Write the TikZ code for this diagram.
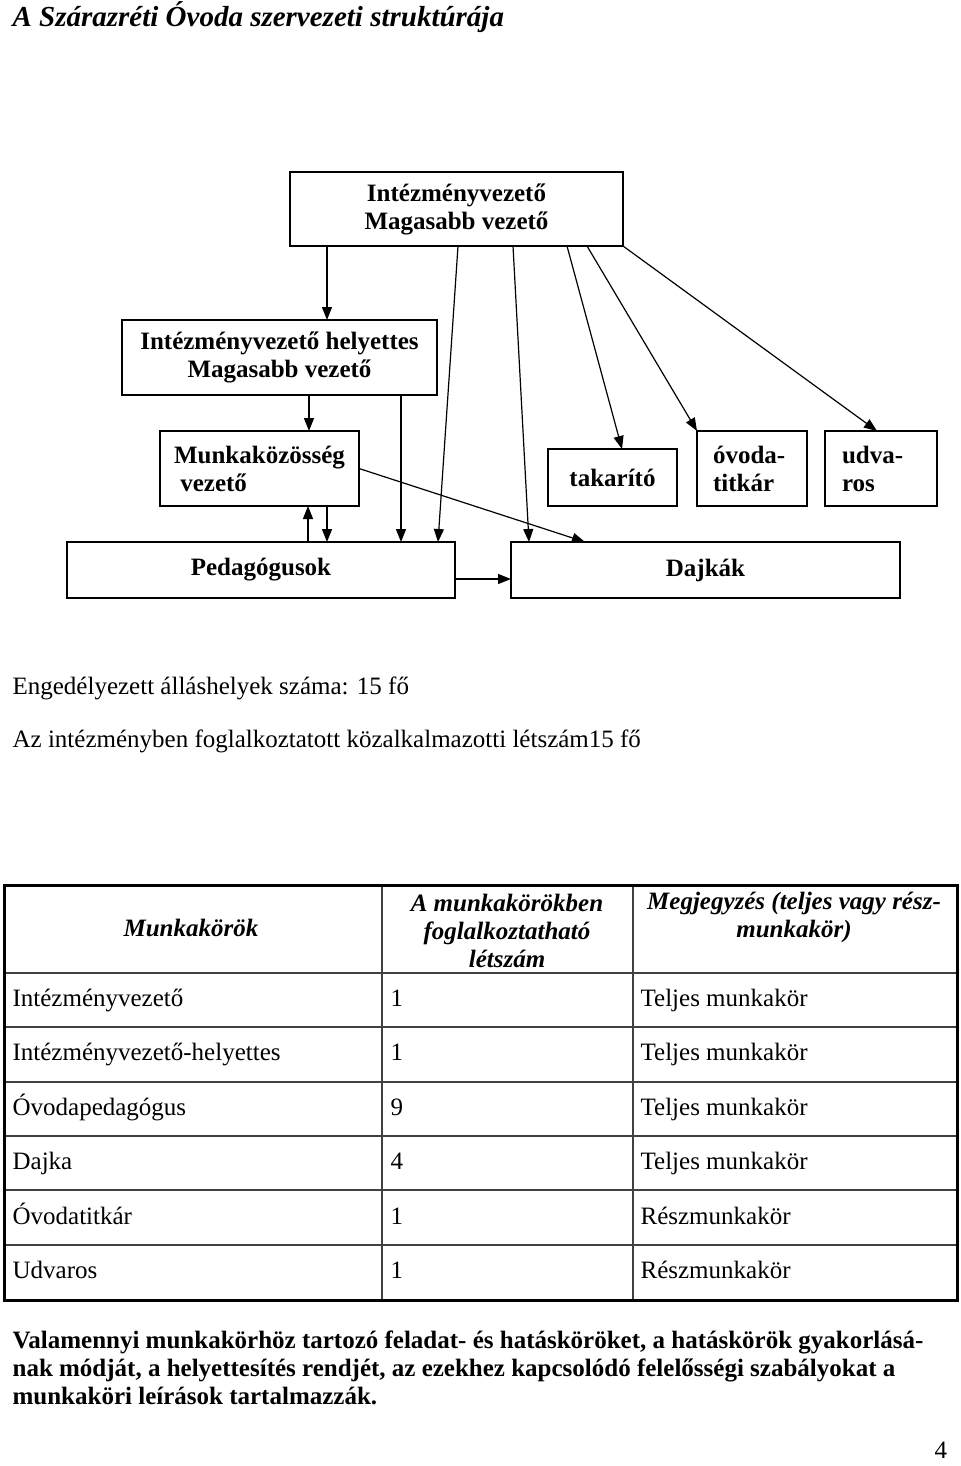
\documentclass[tikz,border=0pt]{standalone}
\usepackage{fontspec}
\setmainfont{Liberation Serif}
\usetikzlibrary{positioning}
\usetikzlibrary{arrows.meta}

\begin{document}
\begin{tikzpicture}[
            x = 0.5pt, y = -0.5pt, % one unit = one pixel of the page
            > = {Triangle[length=6.5pt, width=5pt]}, % arrow head style
            line width = 0.6pt,
            font = \fontsize{12.5}{14}\selectfont
        ]

        \tikzstyle{box}=[
            draw,
            line width = 1pt,
            inner sep = 0pt,
            outer sep = 0pt,
            align = center,
            font = \fontsize{12.5}{14}\selectfont\bfseries
        ]
        \tikzstyle{txt}=[inner sep = 0pt, anchor = base west]
        \tikzstyle{grid}=[line width = 0.6pt, black!75]

        \useasboundingbox (0,0) rectangle (960,1466);

        \node[txt, font=\fontsize{14.5}{16}\selectfont\bfseries\itshape] (title) at (12,27) {A Szárazréti Óvoda szervezeti struktúrája};

        % org chart
        \node[box, minimum width=166.5pt, minimum height=37pt] (IV) at (456.5,209) {Intézményvezető\\Magasabb vezető};
        \node[box, minimum width=157.5pt, minimum height=37.5pt] (IVH) at (279.5,357.5) {Intézményvezető helyettes\\Magasabb vezető};
        \node[box, minimum width=99.5pt, minimum height=37.5pt, align=left] (MK) at (259.5,468.5) {Munkaközösség\\\ vezető};
        \node[box, minimum width=64.5pt, minimum height=28.5pt] (TK) at (612.5,477.5) {takarító};
        \node[box, minimum height=37.5pt, text width=39pt, inner xsep=8pt, align=left] (OT) [right=10pt of TK.south east, anchor=south west] {óvoda-\\titkár};
        \node[box, minimum height=37.5pt, text width=39pt, inner xsep=8.5pt, align=left] (UD) [right=9pt of OT] {udva-\\ros};
        \node[box, minimum width=194pt, minimum height=28pt] (PED) at (261,570) {Pedagógusok};
        \node[box, minimum width=194.5pt, minimum height=28pt] (DK) [right=28pt of PED] {Dajkák};

        \path[->]
            ([xshift=18.5pt]IV.south west)   edge ([xshift=18.5pt]IV.south west |- IVH.north)
            ([xshift=84pt]IV.south west)     edge ([xshift=185.5pt]PED.north west)
            ([xshift=111.5pt]IV.south west)  edge ([xshift=9pt]DK.north west)
            ([xshift=138.5pt]IV.south west)  edge ([xshift=4.75pt]TK.north)
            ([xshift=148.5pt]IV.south west)  edge (OT.north west)
            (IV.south east)                  edge ([xshift=26pt]UD.north west)

            ([xshift=93.5pt]IVH.south west)  edge ([xshift=93.5pt]IVH.south west |- MK.north)
            ([xshift=139.5pt]IVH.south west) edge ([xshift=139.5pt]IVH.south west |- PED.north)

            ([xshift=120.5pt]PED.north west) edge ([xshift=120.5pt]PED.north west |- MK.south)
            ([xshift=83.5pt]MK.south west)   edge ([xshift=83.5pt]MK.south west |- PED.north)
            (MK.east)                        edge ([xshift=37pt]DK.north west)
            ([yshift=-4.5pt]PED.east)        edge ([yshift=-4.5pt]PED.east -| DK.west);

        \node[txt] (allas) at (12,694) {Engedélyezett álláshelyek száma: 15 fő};
        \node[txt] (letszam) at (12,747) {Az intézményben foglalkoztatott közalkalmazotti létszám15 fő};

        % table
        \draw[grid] (382,885) -- (382,1300) (633,885) -- (633,1300);
        \foreach \y in {973,1027,1082,1136,1190,1245}
            \draw[grid] (4,\y) -- (957,\y);
        \draw[line width=1.5pt] (4,885) rectangle (957,1300);

        \node[inner sep=0pt, font=\fontsize{12.5}{14}\selectfont\bfseries\itshape] (hJob) at (191,928) {Munkakörök};
        \node[inner sep=0pt, align=center, font=\fontsize{12.5}{14}\selectfont\bfseries\itshape] (hNum) at (507,931) {A munkakörökben\\foglalkoztatható\\létszám};
        \node[inner sep=0pt, align=center, font=\fontsize{12.5}{14}\selectfont\bfseries\itshape] (hNote) at (794,917) {Megjegyzés (teljes vagy rész-\\munkakör)};

        \foreach \job/\num/\note [count=\i] in {Intézményvezető/1/Teljes munkakör,
                Intézményvezető-helyettes/1/Teljes munkakör,
                Óvodapedagógus/9/Teljes munkakör,
                Dajka/4/Teljes munkakör,
                Óvodatitkár/1/Részmunkakör,
                Udvaros/1/Részmunkakör} {
            \node[txt] (job\i) at (12,{1006+(\i-1)*54.5}) {\job};
            \node[txt] (num\i) at (390,{1006+(\i-1)*54.5}) {\num};
            \node[txt] (note\i) at (640,{1006+(\i-1)*54.5}) {\note};
        }

        \node[inner sep=0pt, anchor=north west, align=left, font=\fontsize{12.5}{14}\selectfont\bfseries] (closing) at (12,1330) {Valamennyi munkakörhöz tartozó feladat- és hatásköröket, a hatáskörök gyakorlásá-\\nak módját, a helyettesítés rendjét, az ezekhez kapcsolódó felelősségi szabályokat a\\munkaköri leírások tartalmazzák.};

        \node[txt] (page) at (934,1458) {4};

\end{tikzpicture}
\end{document}
